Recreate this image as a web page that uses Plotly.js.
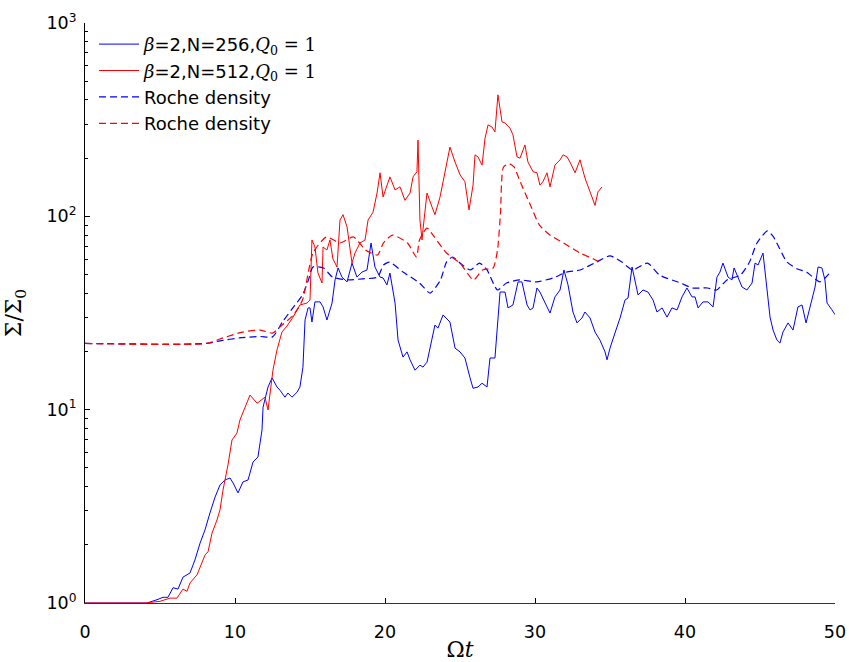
<!DOCTYPE html>
<html>
<head>
<meta charset="utf-8">
<script src="https://cdn.plot.ly/plotly-3.0.1.min.js"></script>
<style>
  html, body { margin: 0; padding: 0; background: #fff; }
  #chart { width: 849px; height: 662px; }
</style>
</head>
<body>
<div id="chart"></div>
<script>
// Surface density evolution, beta = 2, Q0 = 1, two resolutions
const t256 = [0, 2, 4.13, 4.8, 5.2, 5.53, 5.87, 6.2, 6.53, 7, 7.33, 7.67, 8, 8.33, 8.67, 9, 9.33, 9.67, 9.87, 10.2, 10.53, 10.87, 11.2, 11.53, 11.8, 11.87, 12.2, 12.47, 12.8, 13, 13.33, 13.53, 13.8, 14.13, 14.33, 14.53, 14.67, 14.87, 15, 15.13, 15.33, 15.67, 15.87, 16.13, 16.47, 16.67, 16.87, 17.13, 17.47, 17.8, 18.13, 18.47, 18.8, 19.07, 19.33, 19.67, 19.87, 20.13, 20.33, 20.67, 20.87, 21.2, 21.47, 21.67, 22, 22.33, 22.53, 22.8, 23.13, 23.33, 23.53, 23.87, 24.33, 24.67, 25, 25.33, 25.67, 25.87, 26.2, 26.47, 26.8, 27, 27.33, 27.53, 27.67, 28, 28.2, 28.53, 28.87, 29.13, 29.47, 29.67, 29.87, 30.13, 30.33, 30.8, 31, 31.33, 31.67, 31.93, 32.2, 32.53, 32.8, 33.13, 33.33, 33.67, 34, 34.33, 34.67, 34.8, 35, 35.33, 35.67, 36, 36.2, 36.47, 36.67, 36.87, 37.2, 37.53, 37.87, 38.13, 38.47, 38.8, 39.13, 39.47, 39.8, 40.13, 40.47, 40.67, 40.87, 41.2, 41.53, 41.87, 42.13, 42.33, 42.53, 42.87, 43.13, 43.27, 43.47, 43.8, 44.13, 44.47, 44.67, 44.87, 45.2, 45.4, 45.67, 45.87, 46.13, 46.33, 46.53, 46.87, 47.2, 47.53, 47.8, 48.07, 48.33, 48.67, 48.87, 49.13, 49.33, 49.47, 49.8, 50];
const sigma256 = [1, 1, 1, 1.04, 1.07, 1.07, 1.2, 1.18, 1.36, 1.43, 1.67, 2.04, 2.39, 2.92, 3.53, 4.08, 4.33, 4.43, 4.18, 3.71, 4.23, 4.33, 5.36, 5.69, 7.85, 10.3, 13.1, 14.6, 13.1, 12.6, 11.6, 12.2, 11.6, 12.3, 13.1, 16.6, 29.1, 33.6, 33.6, 28.4, 36.1, 36.1, 34.0, 29.1, 35.6, 46.9, 54.1, 48.5, 45.8, 57.3, 48.5, 51.5, 52.8, 72.8, 54.7, 48.5, 48, 44.2, 50.9, 35.6, 22.9, 18.7, 19.9, 18.1, 16.0, 17.0, 16.6, 17.6, 23.8, 27.4, 26.4, 30.9, 28.4, 20.8, 19.9, 18.5, 14.6, 12.9, 13.1, 13.7, 13.1, 18.5, 18.5, 30.9, 40.6, 40.6, 33.6, 34.8, 45.8, 45.8, 34.8, 32.8, 33.6, 42.6, 40.6, 34.0, 31.6, 38.3, 41.6, 52.8, 44.2, 32.0, 28.1, 29.8, 32.0, 29.8, 25.2, 22.9, 19.9, 18.1, 20.8, 24.9, 29.8, 36.9, 37.8, 54.7, 46.9, 39.2, 41.6, 40.6, 36.9, 32.0, 33.6, 30.1, 33.6, 32.8, 38.3, 42.6, 38.3, 38.3, 33.6, 36.1, 36.1, 34.0, 48.5, 51.5, 57.3, 48.5, 46.9, 54.1, 49.7, 43.1, 41.6, 45.2, 57.3, 56.0, 64.6, 46.9, 30.1, 25.8, 22.9, 22.1, 25.2, 28.1, 25.8, 34.0, 34.8, 28.1, 34.0, 43.1, 54.7, 54.1, 46.9, 35.6, 32.8, 31.0];

const t512 = [0, 2, 4, 5, 5.67, 6.13, 6.53, 6.8, 7, 7.47, 7.67, 8, 8.2, 8.47, 8.8, 9, 9.2, 9.53, 9.8, 10.13, 10.33, 10.53, 11, 11.47, 12, 12.2, 12.53, 12.8, 13.13, 13.47, 13.67, 13.87, 14.33, 14.8, 15, 15.13, 15.33, 15.53, 15.8, 15.87, 16.13, 16.33, 16.53, 16.8, 17, 17.2, 17.47, 17.67, 17.8, 18, 18.33, 18.67, 18.87, 19.2, 19.47, 19.67, 19.87, 20.33, 20.67, 21, 21.33, 21.67, 21.87, 22.13, 22.2, 22.33, 22.47, 22.53, 22.8, 23.13, 23.33, 23.67, 24, 24.33, 24.67, 25, 25.33, 25.6, 25.87, 26, 26.2, 26.47, 26.67, 26.87, 27.13, 27.33, 27.53, 27.8, 28, 28.33, 28.53, 28.8, 29, 29.33, 29.53, 29.87, 30.13, 30.33, 30.53, 30.8, 31, 31.33, 31.67, 31.87, 32.13, 32.33, 32.67, 33, 33.33, 33.67, 34, 34.2, 34.47];
const sigma512 = [1, 1, 1, 1.02, 1.06, 1.06, 1.18, 1.15, 1.27, 1.40, 1.52, 1.77, 1.84, 2.30, 2.69, 3.03, 3.84, 5.17, 6.97, 7.57, 8.84, 9.61, 11.9, 10.8, 11.6, 9.96, 16.0, 20.4, 25.2, 27.1, 28.4, 30.1, 34.8, 35.6, 36.9, 75.5, 69.4, 50.9, 45.2, 69.4, 67, 75.5, 60.2, 54.7, 95.7, 102, 88.1, 69.4, 57.4, 64.6, 72.8, 75.5, 95.7, 105, 132, 168, 126, 160, 137, 142, 121, 132, 160, 170, 248, 95.7, 75.5, 85, 132, 112, 102, 126, 170, 228, 191, 164, 151, 108, 145, 208, 203, 184, 254, 297, 290, 273, 425, 308, 304, 286, 264, 203, 200, 234, 191, 170, 168, 145, 151, 168, 142, 184, 196, 208, 203, 191, 168, 196, 158, 134, 114, 134, 142];

const tRoche256 = [0, 8.1, 9, 10.3, 11.7, 12.5, 13.2, 14, 14.5, 14.9, 15.2, 15.9, 16.5, 17.5, 18.5, 19.5, 19.9, 20.3, 21.2, 22.3, 23, 23.7, 24.1, 24.5, 25, 25.7, 26.3, 26.8, 27.5, 28.1, 29, 30.1, 31.2, 32.1, 33, 34.1, 35, 35.8, 36.5, 37.5, 38.3, 39.7, 40.5, 41.5, 42.1, 42.8, 43.7, 44.3, 44.8, 45.5, 45.9, 46.8, 47.5, 48.1, 49, 49.7];
const roche256 = [22, 22, 22.7, 23.5, 23.9, 23.8, 28.7, 34.8, 39.2, 46.9, 54.7, 54, 48.5, 46.9, 47.5, 48.5, 56, 58, 51.5, 45.2, 40.1, 46.9, 58, 61.6, 57.3, 52.8, 57.3, 52.8, 41.6, 45.2, 46.9, 45.8, 48, 51.5, 52.8, 58, 62.4, 58, 52.8, 57.3, 49.7, 45.2, 42.6, 42.6, 41.6, 46.9, 49.7, 58, 72.8, 84, 78.2, 58, 53.4, 51.5, 45.8, 51.5];

const tRoche512 = [0, 8.1, 9.2, 10.5, 11.7, 12.5, 13, 13.9, 14.5, 15.2, 16.1, 17, 17.9, 18.7, 19.5, 19.9, 20.5, 21.5, 22.1, 22.3, 22.8, 23.2, 24.1, 25, 25.9, 26.5, 27.2, 27.5, 27.7, 27.9, 28.3, 28.6, 29, 29.7, 30.3, 31, 31.9, 33, 33.9, 34.3];
const roche512 = [22, 22, 23.5, 25.2, 25.8, 24.9, 26.8, 30.9, 36.9, 64.6, 78.2, 72.8, 78.2, 67, 63.1, 72.8, 80, 72.8, 61.6, 75.5, 87, 80, 64.6, 57.3, 46.9, 52.8, 54, 67, 104, 180, 187, 180, 152, 114, 90, 80, 72.8, 64.6, 60.2, 58];

// math parts of the run labels are set in a serif face
const MATH = 'font-family:DejaVu Serif,serif';
const seriesNames = [
  `<span style="${MATH}"><i>β</i></span>=2,N=256,<span style="${MATH}"><i>Q</i><sub>0</sub> = 1</span>`,
  `<span style="${MATH}"><i>β</i></span>=2,N=512,<span style="${MATH}"><i>Q</i><sub>0</sub> = 1</span>`,
  'Roche density',
  'Roche density'
];

const yTickVals = [1, 10, 100, 1000];
const yTickText = ['10<sup>0</sup>', '10<sup>1</sup>', '10<sup>2</sup>', '10<sup>3</sup>'];
const yMinorVals = [];
[1, 10, 100].forEach(d => { for (let k = 2; k <= 9; k++) yMinorVals.push(k * d); });

const BLUE = '#0000ff';
const RED = '#ff0000';
const DASH = '7px,4px';

const traces = [
  { x: t256, y: sigma256, name: seriesNames[0], mode: 'lines', line: { color: BLUE, width: 1 } },
  { x: t512, y: sigma512, name: seriesNames[1], mode: 'lines', line: { color: RED, width: 1 } },
  { x: tRoche256, y: roche256, name: seriesNames[2], mode: 'lines', line: { color: BLUE, width: 1.2, dash: DASH, shape: 'spline', smoothing: 0.6 } },
  { x: tRoche512, y: roche512, name: seriesNames[3], mode: 'lines', line: { color: RED, width: 1.2, dash: DASH, shape: 'spline', smoothing: 0.6 } }
];

const tickFont = { family: 'DejaVu Sans, sans-serif', size: 17.5, color: '#000' };

const layout = {
  width: 849,
  height: 662,
  margin: { l: 85, r: 14, t: 23, b: 59 },
  paper_bgcolor: '#fff',
  plot_bgcolor: '#fff',
  showlegend: true,
  legend: {
    x: 0.012, y: 0.995, xanchor: 'left', yanchor: 'top',
    bgcolor: 'rgba(0,0,0,0)', borderwidth: 0,
    font: { family: 'DejaVu Sans, sans-serif', size: 18, color: '#000' },
    itemwidth: 40
  },
  xaxis: {
    range: [0, 50],
    tickvals: [0, 10, 20, 30, 40, 50],
    ticks: 'inside', ticklen: 5, tickwidth: 1, tickcolor: '#000',
    ticklabelstandoff: 13,
    showline: true, linecolor: '#333', linewidth: 1,
    showgrid: false, zeroline: false, mirror: false,
    tickfont: tickFont,
    title: { text: 'Ω<i>t</i>', font: { family: 'DejaVu Serif, serif', size: 22, color: '#000' }, standoff: 10 }
  },
  yaxis: {
    type: 'log',
    range: [0, 3],
    tickmode: 'array',
    tickvals: yTickVals,
    ticktext: yTickText,
    ticks: 'inside', ticklen: 5, tickwidth: 1, tickcolor: '#000',
    ticklabelstandoff: 4,
    minor: { ticks: 'inside', ticklen: 3, tickwidth: 1, tickcolor: '#000', tickmode: 'array', tickvals: yMinorVals, showgrid: false },
    showline: true, linecolor: '#000', linewidth: 1,
    showgrid: false, zeroline: false, mirror: false,
    tickfont: tickFont,
    title: { text: 'Σ/Σ<sub>0</sub>', font: { family: 'DejaVu Serif, serif', size: 22, color: '#000' }, standoff: 18 }
  }
};

Plotly.newPlot('chart', traces, layout, { staticPlot: true, displayModeBar: false });
</script>
</body>
</html>
